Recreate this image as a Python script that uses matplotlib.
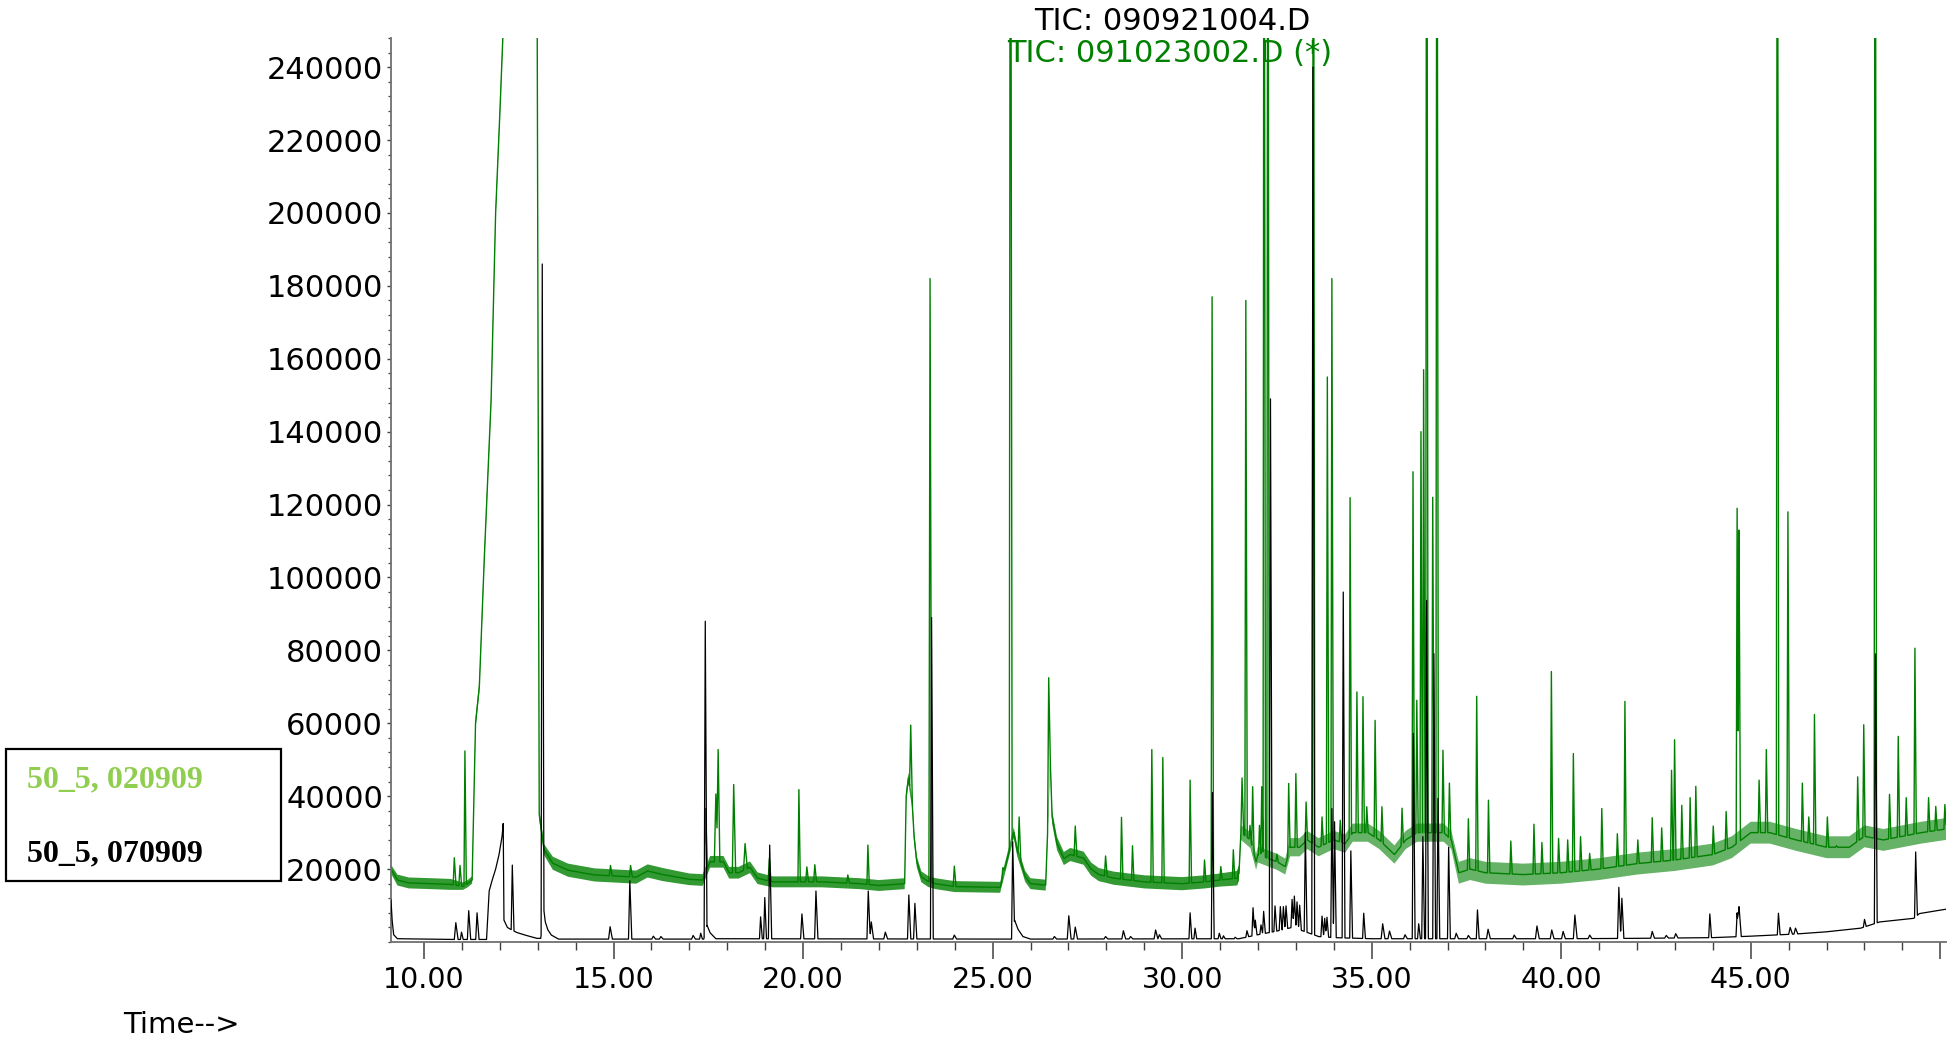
import numpy as np
import matplotlib
matplotlib.use("Agg")
import matplotlib.pyplot as plt
from matplotlib.ticker import FixedLocator, MultipleLocator, FuncFormatter
from matplotlib.patches import Rectangle

# ---------------- run 50_5, 070909 (black trace, TIC 090921004.D) ----------------
black_base_t = [9.13, 9.16, 9.20, 9.30, 10.70, 11.65, 11.72, 11.80, 11.89, 11.98, 12.06,
                12.09, 12.11, 12.20, 12.28, 12.45, 12.70, 12.98, 13.08, 13.16, 13.20,
                13.27, 13.36, 13.55, 17.38, 17.47, 17.55, 17.70, 25.50, 25.58, 25.67,
                25.80, 26.00, 31.50, 32.00, 32.50, 32.90, 33.20, 33.60, 34.00, 35.00,
                40.00, 42.00, 44.00, 45.00, 46.20, 47.00, 47.90, 48.40, 49.30, 49.45,
                50.15]
black_base_i = [11500, 6000, 2000, 900, 700, 700, 14000, 17000, 20000, 24000, 29000,
                32500, 6000, 4000, 3500, 2600, 1800, 1000, 1000, 9000, 5500,
                3300, 1900, 800, 800, 4500, 2500, 900, 800, 6000, 3500,
                1500, 800, 900, 2000, 3000, 4000, 3000, 1500, 1200, 900,
                900, 1000, 1200, 1600, 2200, 2800, 3800, 5500, 6500, 7800,
                9000]

black_peak_t = [10.84, 10.99, 11.18, 11.40, 12.33, 13.12, 14.91, 15.43, 16.05, 16.25,
                17.10, 17.30, 17.42, 18.88, 18.99, 19.12, 19.97, 20.34, 21.72, 21.80,
                22.17, 22.79, 22.95, 23.39, 23.99, 25.53, 26.63, 27.01, 27.18, 27.98,
                28.45, 28.64, 29.30, 29.40, 30.21, 30.34, 30.80, 30.98, 31.09, 31.40,
                31.71, 31.87, 31.93, 32.08, 32.15, 32.33, 32.45, 32.59, 32.67, 32.74,
                32.90, 32.96, 33.03, 33.10, 33.25, 33.45, 33.69, 33.76, 33.82, 33.95,
                34.02, 34.25, 34.45, 34.79, 35.29, 35.47, 35.88, 36.10, 36.24, 36.35,
                36.45, 36.64, 36.75, 37.03, 37.23, 37.55, 37.79, 38.07, 38.76, 39.36,
                39.75, 40.05, 40.36, 40.75, 41.52, 41.60, 42.40, 42.77, 43.02, 43.92,
                44.64, 44.69, 45.73, 46.04, 46.18, 48.00, 48.29, 49.35]
black_peak_i = [5300, 2700, 8600, 8000, 21100, 186000, 4200, 16800, 1600, 1500,
                1800, 2400, 88000, 6900, 12200, 26600, 7700, 14000, 14000, 5500,
                2700, 12900, 10600, 89000, 1900, 27500, 1500, 7200, 4100, 1500,
                3100, 1500, 3300, 2000, 8000, 3800, 41000, 2400, 1700, 1300,
                3100, 9400, 6000, 4700, 8400, 149000, 9900, 9700, 9700, 9900,
                11700, 12600, 11000, 10100, 30000, 240000, 7100, 6500, 6800, 36600,
                33000, 96000, 25000, 7900, 5000, 3000, 2000, 57200, 5000, 28900,
                93700, 79100, 39400, 26000, 2400, 1800, 8800, 3500, 1900, 4400,
                3300, 2900, 7400, 1900, 15000, 12000, 2900, 1800, 2300, 7700,
                8000, 9700, 7900, 4000, 3800, 6200, 79000, 24700]
black_peak_w = [0.04, 0.03, 0.035, 0.035, 0.03, 0.03, 0.04, 0.035, 0.04, 0.04,
                0.04, 0.03, 0.03, 0.03, 0.03, 0.035, 0.035, 0.035, 0.035, 0.04,
                0.04, 0.035, 0.035, 0.03, 0.04, 0.03, 0.04, 0.04, 0.04, 0.04,
                0.04, 0.04, 0.04, 0.04, 0.03, 0.03, 0.03, 0.03, 0.03, 0.03,
                0.03, 0.03, 0.03, 0.03, 0.03, 0.03, 0.03, 0.03, 0.03, 0.03,
                0.03, 0.03, 0.03, 0.03, 0.03, 0.03, 0.03, 0.03, 0.03, 0.03,
                0.03, 0.03, 0.03, 0.03, 0.04, 0.04, 0.04, 0.03, 0.03, 0.03,
                0.03, 0.03, 0.03, 0.03, 0.04, 0.04, 0.03, 0.04, 0.04, 0.04,
                0.04, 0.04, 0.04, 0.04, 0.035, 0.035, 0.04, 0.04, 0.04, 0.03,
                0.03, 0.04, 0.03, 0.04, 0.04, 0.03, 0.03, 0.03]

# ---------------- run 50_5, 020909 (green trace, TIC 091023002.D) ----------------
green_base_t = [9.13, 9.30, 9.60, 10.20, 10.70, 11.03, 11.15, 11.27, 11.36, 11.46,
                11.59, 11.77, 11.89, 12.00, 12.08, 12.25, 12.97, 13.04, 13.17, 13.40,
                13.80, 14.50, 15.60, 15.90, 16.30, 17.00, 17.35, 17.55, 17.90, 18.05,
                18.30, 18.60, 18.80, 19.20, 20.50, 21.50, 22.00, 22.68, 22.72, 22.78,
                22.88, 22.93, 23.00, 23.12, 23.30, 23.50, 24.00, 25.20, 25.56, 25.65,
                25.86, 26.00, 26.40, 26.52, 26.57, 26.70, 26.88, 27.05, 27.40, 27.60,
                27.80, 28.20, 28.60, 29.00, 30.00, 30.60, 31.00, 31.45, 31.50, 31.55,
                31.80, 31.95, 32.00, 32.50, 32.72, 32.85, 33.10, 33.30, 33.60, 34.00,
                34.30, 34.50, 34.90, 35.20, 35.60, 35.90, 36.20, 36.50, 36.90, 37.10,
                37.30, 37.60, 38.00, 39.00, 40.00, 41.00, 42.00, 43.00, 44.00, 44.50,
                45.00, 45.50, 46.20, 47.00, 47.60, 48.00, 48.50, 49.00, 49.50, 50.15]
green_base_i = [20000, 17000, 16200, 16000, 15800, 15300, 16000, 17000, 60000, 70000,
                105000, 148500, 200000, 227000, 248000, 320000, 320000, 35000, 25300, 21600,
                19700, 18400, 17800, 19500, 18500, 17200, 17000, 22000, 22000, 19000,
                19000, 20500, 17500, 16500, 16500, 16000, 15500, 16000, 40000, 45000,
                38000, 28800, 22000, 17900, 16600, 16000, 15200, 15000, 30000, 25000,
                18000, 16000, 15600, 50000, 34300, 27000, 22900, 24000, 23000, 20000,
                18500, 17500, 17000, 16500, 16000, 16500, 17000, 17500, 19000, 30000,
                28000, 22000, 24000, 22000, 20700, 26000, 26000, 28000, 26000, 28000,
                27000, 30000, 30000, 28000, 24000, 28000, 30000, 30000, 30000, 28000,
                19000, 20000, 19000, 18500, 19000, 20000, 21500, 22500, 24000, 26000,
                30000, 30000, 28000, 26000, 26000, 29000, 28000, 29000, 30000, 31000]
green_noise = [1200, 1500, 1500, 1500, 1500, 1000, 1000, 1000, 1500, 1500,
               1500, 1500, 1500, 1500, 1500, 0, 0, 1500, 1500, 1800,
               1800, 1800, 1800, 1800, 1800, 1600, 1600, 1600, 1600, 1600,
               1600, 1600, 1600, 1500, 1500, 1500, 1500, 1500, 1500, 1500,
               1500, 1500, 1500, 1500, 1500, 1500, 1500, 1500, 1500, 1500,
               1500, 1500, 1500, 1500, 1800, 1800, 1800, 1800, 1800, 1800,
               1800, 1800, 1800, 1800, 1800, 1800, 1800, 2000, 2000, 2000,
               2200, 2200, 2200, 2200, 2200, 2500, 2500, 2500, 2500, 2500,
               2500, 2500, 2500, 2500, 2500, 2500, 2500, 2500, 2500, 2500,
               3000, 3000, 3000, 3000, 3000, 3000, 3000, 3000, 3000, 3000,
               3000, 3000, 3000, 3000, 3000, 3000, 3000, 3000, 3000, 3000]

green_peak_t = [10.80, 10.95, 11.08, 14.92, 15.45, 17.43, 17.70, 17.76, 18.17, 18.47,
                19.11, 19.89, 20.10, 20.31, 21.18, 21.71, 22.84, 23.35, 23.99, 25.27,
                25.47, 25.70, 26.48, 27.18, 27.98, 28.40, 28.69, 29.20, 29.49, 30.21,
                30.59, 30.79, 31.02, 31.35, 31.58, 31.68, 31.79, 31.86, 32.04, 32.10,
                32.16, 32.26, 32.50, 32.81, 33.00, 33.27, 33.46, 33.69, 33.83, 33.95,
                34.17, 34.43, 34.61, 34.77, 34.87, 35.09, 35.27, 35.80, 36.09, 36.19,
                36.30, 36.37, 36.45, 36.61, 36.72, 36.88, 37.05, 37.55, 37.77, 38.08,
                38.67, 39.28, 39.49, 39.74, 39.93, 40.17, 40.32, 40.51, 40.75, 41.07,
                41.48, 41.68, 42.02, 42.40, 42.65, 42.91, 42.99, 43.18, 43.40, 43.55,
                44.01, 44.35, 44.64, 44.69, 45.22, 45.41, 45.70, 45.98, 46.36, 46.53,
                46.68, 47.02, 47.26, 47.82, 47.98, 48.28, 48.66, 48.89, 49.10, 49.33,
                49.69, 49.88, 50.12]
green_peak_i = [23100, 21000, 52400, 21000, 21000, 36600, 40600, 52800, 43200, 27000,
                22900, 41800, 20600, 21200, 18400, 26600, 59500, 182000, 20800, 20400,
                400000, 34300, 72500, 31800, 23600, 34200, 26400, 52800, 50600, 44400,
                22500, 177000, 20700, 25300, 45000, 176000, 32000, 42600, 32000, 42600,
                400000, 400000, 24100, 43500, 46200, 38400, 400000, 34300, 155000, 182000,
                33400, 121900, 68600, 67300, 37100, 60800, 37100, 36700, 129000, 66300,
                140000, 157000, 400000, 122000, 400000, 52600, 43600, 33800, 67400, 38900,
                27700, 32300, 27300, 74200, 28400, 28000, 51700, 28900, 24300, 36600,
                29700, 66000, 28000, 34100, 31300, 47100, 55500, 37500, 39600, 42700,
                31800, 35800, 119000, 113000, 44400, 52800, 400000, 118000, 43600, 34300,
                62400, 34300, 26400, 45300, 59600, 400000, 40500, 56400, 39600, 80600,
                39600, 37200, 37700]
green_peak_w = [0.03, 0.03, 0.025, 0.03, 0.03, 0.03, 0.04, 0.03, 0.035, 0.04,
                0.03, 0.025, 0.03, 0.03, 0.03, 0.025, 0.03, 0.03, 0.03, 0.03,
                0.03, 0.03, 0.03, 0.03, 0.03, 0.025, 0.025, 0.025, 0.025, 0.025,
                0.025, 0.025, 0.025, 0.025, 0.03, 0.025, 0.025, 0.025, 0.025, 0.025,
                0.025, 0.025, 0.025, 0.025, 0.025, 0.025, 0.025, 0.025, 0.025, 0.025,
                0.025, 0.025, 0.025, 0.025, 0.025, 0.025, 0.025, 0.025, 0.025, 0.025,
                0.025, 0.025, 0.025, 0.025, 0.025, 0.025, 0.025, 0.025, 0.025, 0.025,
                0.025, 0.025, 0.025, 0.025, 0.025, 0.025, 0.025, 0.025, 0.025, 0.025,
                0.025, 0.025, 0.025, 0.025, 0.025, 0.025, 0.025, 0.025, 0.025, 0.025,
                0.025, 0.025, 0.025, 0.025, 0.025, 0.025, 0.025, 0.025, 0.025, 0.025,
                0.025, 0.025, 0.025, 0.025, 0.025, 0.025, 0.025, 0.025, 0.025, 0.025,
                0.025, 0.025, 0.025]

# axis ticks and labels
x_major = [10, 15, 20, 25, 30, 35, 40, 45, 50]
x_labeled = [10, 15, 20, 25, 30, 35, 40, 45]
y_major = [20000, 40000, 60000, 80000, 100000, 120000, 140000, 160000, 180000,
           200000, 220000, 240000]

title_black = "TIC: 090921004.D"
title_green = "TIC: 091023002.D (*)"
legend_green = "50_5, 020909"
legend_black = "50_5, 070909"
x_caption = "Time-->"


def chromatogram(base_t, base_i, pk_t, pk_i, pk_w, tail=1.5):
    """Baseline polyline with triangular peaks laid on top (upper envelope)."""
    bt = np.asarray(base_t, float)
    bi = np.asarray(base_i, float)
    pt = np.asarray(pk_t, float)
    pi = np.asarray(pk_i, float)
    wl = np.asarray(pk_w, float)
    wr = wl * tail
    ts = np.unique(np.concatenate([bt, pt - wl, pt, pt + wr]))
    ts = ts[(ts >= bt[0]) & (ts <= bt[-1])]
    ys = np.interp(ts, bt, bi)
    for t0, h, l, r in zip(pt, pi, wl, wr):
        fl = np.interp(t0 - l, bt, bi)
        fr = np.interp(t0 + r, bt, bi)
        up = (ts >= t0 - l) & (ts <= t0)
        dn = (ts > t0) & (ts <= t0 + r)
        ys[up] = np.maximum(ys[up], fl + (h - fl) * (ts[up] - (t0 - l)) / l)
        ys[dn] = np.maximum(ys[dn], h + (fr - h) * (ts[dn] - t0) / r)
    return ts, ys


GREEN = "#008000"
AXIS_GREY = "#707070"

fig = plt.figure(figsize=(19.57, 10.42), dpi=100)
ax = fig.add_axes([391 / 1957, 100 / 1042, 1555 / 1957, 904 / 1042])

# green run: detector-noise band (denser early, looser later) + peaks
gt = np.asarray(green_base_t, float)
gi = np.asarray(green_base_i, float)
gn = np.asarray(green_noise, float)
early = gt <= 31.5
late = gt >= 31.45
ax.fill_between(gt[early], (gi - gn)[early], (gi + gn)[early], facecolor=GREEN,
                alpha=0.8, lw=0, zorder=1)
ax.fill_between(gt[late], (gi - gn)[late], (gi + gn)[late], facecolor=GREEN,
                alpha=0.6, lw=0, zorder=1)
tg, yg = chromatogram(green_base_t, green_base_i, green_peak_t, green_peak_i, green_peak_w)
ax.plot(tg, yg, color=GREEN, lw=1.0, zorder=2)

# black run
tb, yb = chromatogram(black_base_t, black_base_i, black_peak_t, black_peak_i, black_peak_w)
ax.plot(tb, yb, color="black", lw=0.9, zorder=3)

ax.set_xlim(9.13, 50.15)
ax.set_ylim(0, 248000)

for side in ("top", "right"):
    ax.spines[side].set_visible(False)
for side in ("left", "bottom"):
    ax.spines[side].set_color(AXIS_GREY)
    ax.spines[side].set_linewidth(1.3)

ax.xaxis.set_major_locator(FixedLocator(x_major))
ax.xaxis.set_minor_locator(MultipleLocator(1))
ax.xaxis.set_major_formatter(FuncFormatter(
    lambda v, p: f"{v:.2f}" if round(v) in x_labeled else ""))
ax.yaxis.set_major_locator(FixedLocator(y_major))
ax.yaxis.set_minor_locator(MultipleLocator(4000))
ax.yaxis.set_major_formatter(FuncFormatter(lambda v, p: f"{int(v)}"))

ax.tick_params(axis="x", which="major", direction="out", length=12, width=1.1,
               color="#404040", pad=5, labelsize=20.5)
ax.tick_params(axis="x", which="minor", direction="out", length=6, width=1.0,
               color="#404040")
ax.tick_params(axis="y", which="major", direction="out", length=3.2, width=1.0,
               color="#404040", pad=2.5, labelsize=22)
ax.tick_params(axis="y", which="minor", direction="out", length=2.2, width=0.9,
               color="#404040")
for lab in ax.get_xticklabels() + ax.get_yticklabels():
    lab.set_fontfamily("DejaVu Sans")

# headers of the two runs
fig.text(1172 / 1957, 1 - 21 / 1042, title_black, ha="center", va="center",
         fontsize=22, family="DejaVu Sans", color="black")
fig.text(1170 / 1957, 1 - 54 / 1042, title_green, ha="center", va="center",
         fontsize=22, family="DejaVu Sans", color=GREEN)

# x caption
fig.text(123 / 1957, 1 - 1025 / 1042, x_caption, ha="left", va="center",
         fontsize=21, family="DejaVu Sans", color="black")

# sample key box
fig.patches.append(Rectangle((6 / 1957, 1 - 881 / 1042), 275 / 1957, 132 / 1042,
                             transform=fig.transFigure, fill=False,
                             edgecolor="black", lw=1.6))
fig.text(27 / 1957, 1 - 780 / 1042, legend_green, ha="left", va="center",
         fontsize=23, family="Liberation Serif", weight="bold", color="#8fce4e")
fig.text(27 / 1957, 1 - 854 / 1042, legend_black, ha="left", va="center",
         fontsize=23, family="Liberation Serif", weight="bold", color="black")

fig.savefig("out.png", dpi=100, facecolor="white")
